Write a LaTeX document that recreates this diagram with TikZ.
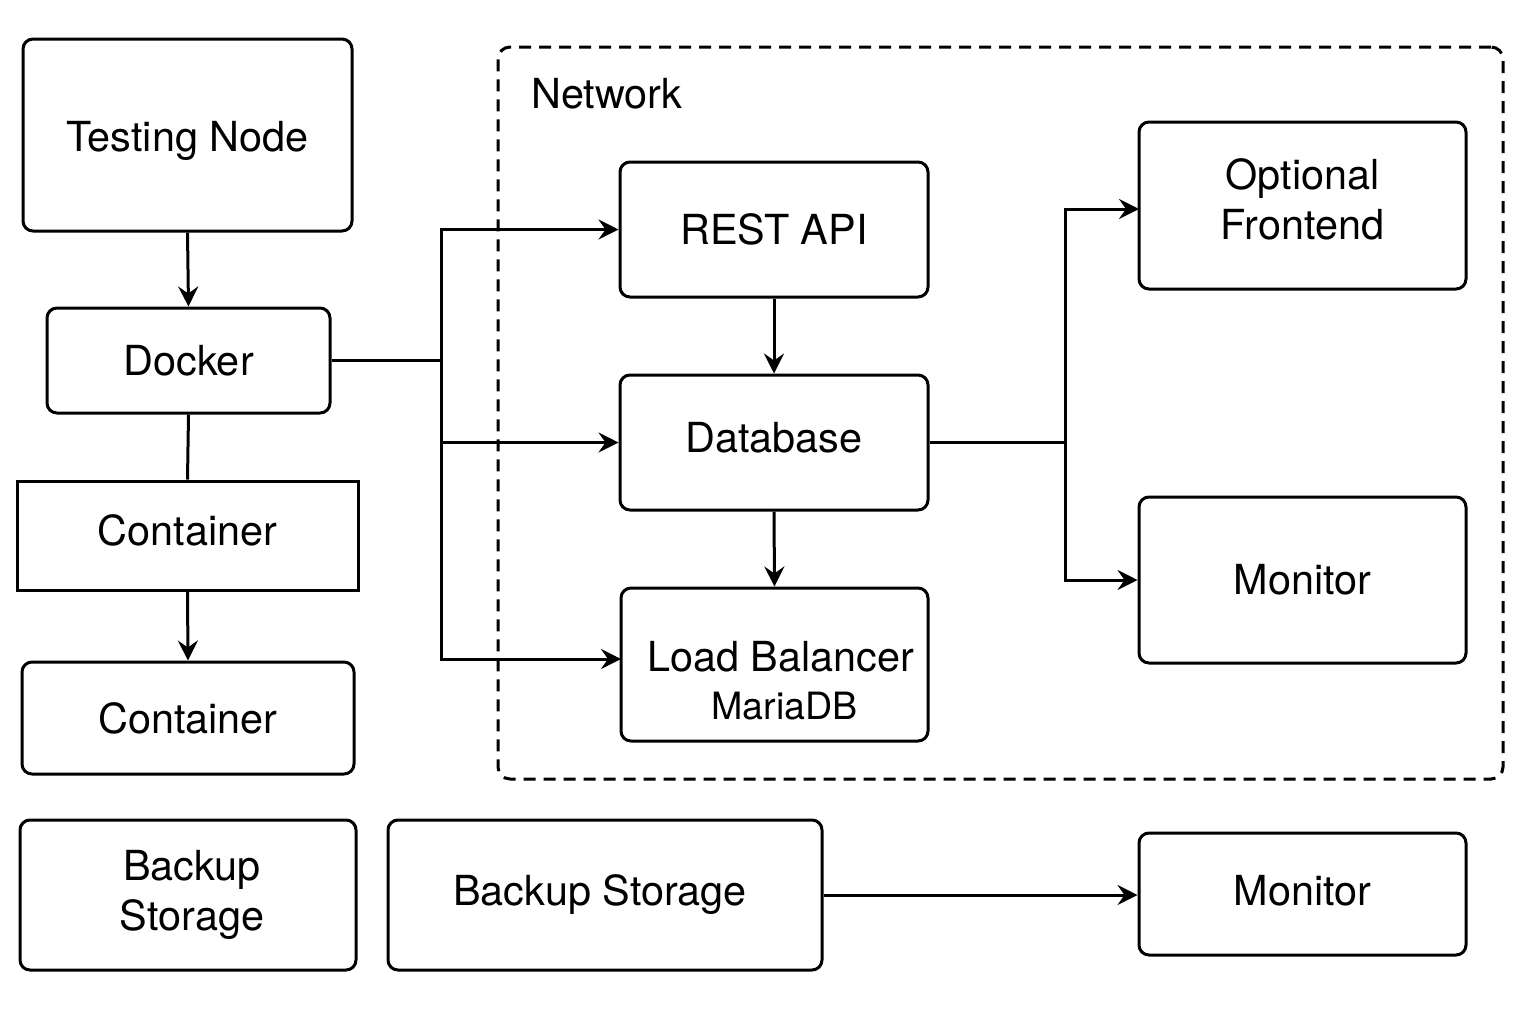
\documentclass[tikz,border=0pt]{standalone}
\usepackage{fontspec}
\setmainfont{TeX Gyre Heros}
\usetikzlibrary{arrows.meta}
\newcommand{\mylines}[2]{\raisebox{#1}[\height][\depth]{\begin{tabular}{@{}c@{}}#2\end{tabular}}}
\newcommand{\myraise}[2]{\raisebox{#1}[\height][\depth]{#2}}
\begin{document}
\begin{tikzpicture}[x=0.5pt,y=-0.5pt,
  box/.style={draw, line width=1.5pt, rounded corners=5pt, align=center, font=\fontsize{20.7}{25}\selectfont, inner sep=0pt},
  sbox/.style={draw, line width=1.5pt, align=center, font=\fontsize{20.7}{25}\selectfont, inner sep=0pt},
  conn/.style={line width=1.5pt},
  arr/.style={line width=1.5pt, -{Stealth[length=10pt,width=10pt,inset=3.5pt]}},
  netframe/.style={draw, line width=1.5pt, dash pattern=on 6pt off 4pt, rounded corners=6pt, inner sep=0pt}
]
\useasboundingbox (0,0) rectangle (1536,1024);

% network frame
\node[netframe, minimum width=502.5pt, minimum height=366pt] (net) at (1000.5,413) {};
\node[anchor=base west, font=\fontsize{20.7}{25}\selectfont, inner sep=0pt] (netlbl) at (531,108) {Network};

% left column
\node[box, minimum width=164.5pt, minimum height=96pt] (tn) at (187.5,135) {\myraise{-3pt}{Testing Node}};
\node[box, minimum width=141.5pt, minimum height=52.5pt] (dk) at (188.5,360.5) {Docker};
\node[sbox, minimum width=170.5pt, minimum height=54.5pt] (c1) at (187.5,535.5) {\myraise{2.5pt}{Container}};
\node[box, minimum width=166pt, minimum height=56pt] (c2) at (188,718) {Container};

% network nodes
\node[box, minimum width=154pt, minimum height=67.5pt] (api) at (774,229.5) {REST API};
\node[box, minimum width=154pt, minimum height=67.5pt] (db) at (774,442.5) {\myraise{2.5pt}{Database}};
\node[box, minimum width=153.5pt, minimum height=76.5pt] (lb) at (774.5,664.5) {\mylines{-10.5pt}{\hspace*{6pt}Load Balancer\\[-1pt]\hspace*{10pt}{\fontsize{18.8}{22}\selectfont MariaDB}}};
\node[box, minimum width=163.5pt, minimum height=83.5pt] (of) at (1302.5,205.5) {\mylines{0.5pt}{Optional\\Frontend}};
\node[box, minimum width=163.5pt, minimum height=83pt] (mon) at (1302.5,580) {Monitor};

% bottom row
\node[box, minimum width=168pt, minimum height=75pt] (bs1) at (188,895) {\mylines{0pt}{\hspace*{4pt}Backup\\\hspace*{4pt}Storage}};
\node[box, minimum width=217pt, minimum height=75pt] (bs2) at (605,895) {Backup Storage\hspace*{5pt}};
\node[box, minimum width=163.5pt, minimum height=61pt] (mon2) at (1302.5,894) {\myraise{1.5pt}{Monitor}};

% helper coordinates
\coordinate (bus) at (441,0);
\coordinate (rbus) at (1065,0);
\coordinate (lbin) at (621,659);
\coordinate (ofin) at (1139,209);

% left column connectors
\draw[arr] (tn.south) -- (dk.north);
\draw[conn] (dk.south) -- (c1.north);
\draw[arr] (c1.south) -- (c2.north);

% bus from Docker
\draw[conn] (dk.east) -- (dk.east -| bus);
\draw[arr] (lbin -| bus) |- (api.west);
\draw[arr] (api.west -| bus) |- (lbin);
\draw[arr] (db.west -| bus) -- (db.west);

% vertical chain
\draw[arr] (api.south) -- (db.north);
\draw[arr] (db.south) -- (lb.north);

% right bus
\draw[conn] (db.east) -- (db.east -| rbus);
\draw[arr] (mon.west -| rbus) |- (ofin);
\draw[arr] (ofin -| rbus) |- (mon.west);

% bottom
\draw[arr] (bs2.east) -- (bs2.east -| mon2.west);
\end{tikzpicture}
\end{document}
